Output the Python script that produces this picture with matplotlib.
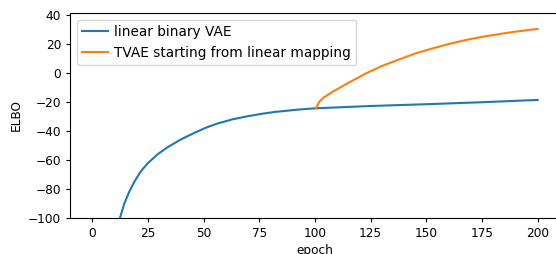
import matplotlib
matplotlib.use("Agg")
import matplotlib.pyplot as plt

# linear binary VAE
vae_epoch = [10, 11.5, 12.6, 14.4, 16.6, 18.9, 21.9, 24.9, 29.3, 33.8, 39.9, 45.8, 51, 56, 63, 70, 76.5,
             82, 88.5, 93, 100, 125, 153, 175, 200]
vae_elbo = [-112, -104.5, -99.3, -90.1, -82, -75.1, -67.7, -62.4, -56.2, -51.3, -45.8, -41.4, -37.8,
            -35.0, -32.0, -29.8, -28.1, -26.9, -25.9, -25.2, -24.4, -22.8, -21.4, -20.2, -18.6]

# TVAE starting from linear mapping
tvae_epoch = [100.5, 101, 102, 104, 108, 115, 123, 130, 138, 145, 153, 160, 168, 175, 183, 190, 200]
tvae_elbo = [-24.4, -22.5, -19.8, -16.8, -12.9, -6.8, -0.2, 4.8, 9.5, 13.5, 17.1, 20.0, 22.9, 25.0,
             27.0, 28.6, 30.5]

fig = plt.figure(figsize=(5.56, 2.54), dpi=100)
ax = fig.add_axes([0.126, 0.143, 0.881, 0.807])

ax.plot(vae_epoch, vae_elbo, label="linear binary VAE", lw=1.5)
ax.plot(tvae_epoch, tvae_elbo, label="TVAE starting from linear mapping", lw=1.5)

ax.set_xlim(-10, 210)
ax.set_ylim(-100, 41.7)
ax.set_xticks([0, 25, 50, 75, 100, 125, 150, 175, 200])
ax.set_yticks([-100, -80, -60, -40, -20, 0, 20, 40])
ax.tick_params(labelsize=8.7, length=3)
ax.set_xlabel("epoch", fontsize=8.7, labelpad=3)
ax.set_ylabel("ELBO", fontsize=8.7)
ax.spines["right"].set_visible(False)
ax.legend(loc="upper left", fontsize=9.8, handlelength=1.9, handletextpad=0.45)

fig.savefig("out.png", dpi=100)
